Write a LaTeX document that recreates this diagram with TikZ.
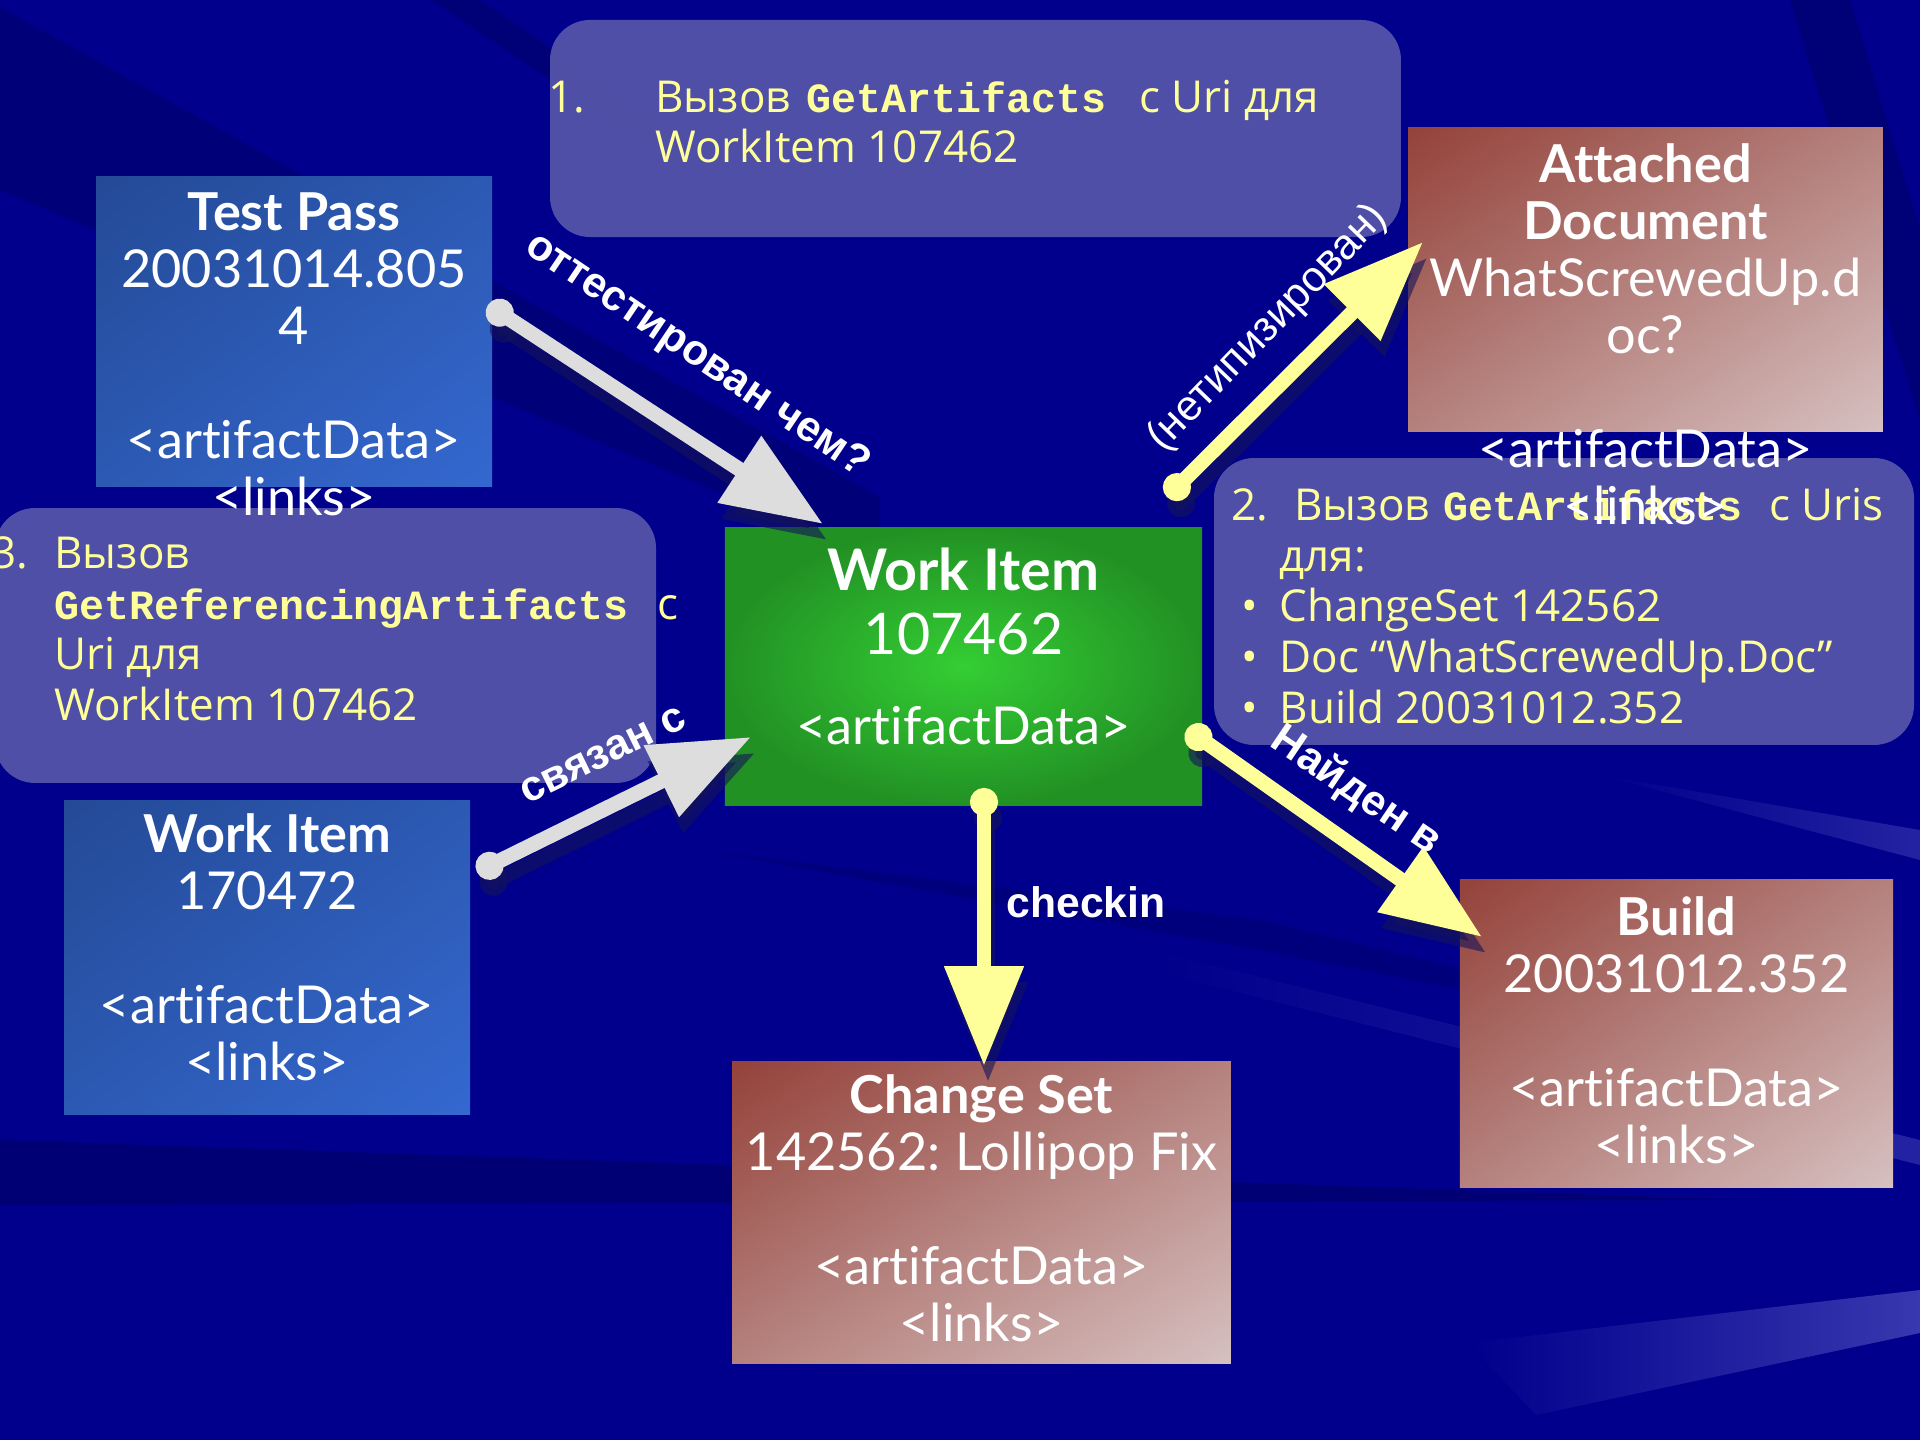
\documentclass[tikz,border=0pt]{standalone}
\usepackage{fontspec}
\setmainfont{Lato}[Ligatures=NoCommon]
\newfontfamily\labfont{Liberation Sans}
\newfontfamily\comicfont{Open Sans}
\newfontfamily\codefont{Liberation Mono}
\usetikzlibrary{arrows.meta,shadings}
\definecolor{bgblue}{RGB}{0,0,140}
\definecolor{bgdark}{RGB}{0,0,100}
\definecolor{bglight}{RGB}{70,70,185}
\definecolor{blueA}{RGB}{36,74,150}
\definecolor{blueB}{RGB}{52,104,208}
\definecolor{blueM}{RGB}{44,89,179}
\definecolor{greenA}{RGB}{52,206,52}
\definecolor{greenB}{RGB}{34,145,36}
\definecolor{brownA}{RGB}{148,66,58}
\definecolor{brownB}{RGB}{214,192,192}
\definecolor{brownM}{RGB}{181,129,125}
\definecolor{callfill}{RGB}{94,94,174}
\definecolor{cyellow}{RGB}{255,255,153}
\definecolor{agray}{RGB}{221,221,221}
\definecolor{ayellow}{RGB}{255,255,153}
\definecolor{ashadow}{RGB}{20,20,90}
\newcommand{\codetxt}[1]{{\codefont\bfseries\fontsize{15.6pt}{19pt}\selectfont #1}}
\begin{document}
\begin{tikzpicture}[x=0.375pt,y=-0.375pt,
  bx/.style={inner sep=0pt, outer sep=0pt, draw=none},
  bluebox/.style={bx, upper left=blueA, lower right=blueB, upper right=blueM, lower left=blueM},
  greenbox/.style={bx, inner color=greenA, outer color=greenB},
  brownbox/.style={bx, upper left=brownA, lower right=brownB, upper right=brownM, lower left=brownM},
  boxtxt/.style={text=white, align=center, inner sep=0pt, anchor=north, font=\fontsize{19.6pt}{21.4pt}\selectfont},
  callout/.style={fill=callfill, fill opacity=0.85, rounded corners=15pt, inner sep=0pt, draw=none},
  calltxt/.style={text=cyellow, align=left, inner sep=0pt, anchor=north west, font=\comicfont\fontsize{16.5pt}{19pt}\selectfont},
  conn/.style={line width=5.6pt, arrows={Circle[length=10.5pt]-Triangle[length=37.5pt,width=28.5pt]}},
  grayconn/.style={conn, draw=agray},
  yelconn/.style={conn, draw=ayellow},
  shadowconn/.style={conn, draw=ashadow, opacity=0.6, transform canvas={shift={(1.5pt,-6pt)}}},
  lab/.style={text=white, inner sep=0pt, font=\labfont\bfseries\fontsize{16pt}{19pt}\selectfont},
]
\useasboundingbox (0,0) rectangle (1920,1440);
% background
\fill[bgblue] (0,0) rectangle (1920,1440);
\fill[bgdark, opacity=0.45] (0,7) -- (880,497) -- (880,560) -- (0,190) -- cycle;
\fill[bgdark, opacity=0.5] (432,0) -- (480,0) -- (700,150) -- (640,140) -- cycle;
\fill[bgdark, opacity=0.5] (1790,0) -- (1850,0) -- (1920,230) -- (1920,420) -- cycle;
\fill[bgdark, opacity=0.6] (0,1140) -- (1750,1200) -- (0,1205) -- cycle;
\fill[bgdark, opacity=0.4] (700,850) -- (1260,920) -- (1920,1080) -- (1260,950) -- cycle;
\shade[left color=bgblue, right color=bglight, opacity=0.8] (1468,1343) -- (1920,1290) -- (1920,1333) -- (1536,1415) -- cycle;
\shade[left color=bgblue, right color=bglight, opacity=0.5] (1150,950) -- (1920,1140) -- (1920,1165) -- (1150,970) -- cycle;
\shade[left color=bgblue, right color=bglight, opacity=0.5] (1600,775) -- (1920,830) -- (1920,860) -- cycle;
% callouts
\node[callout, minimum width=319.1pt, minimum height=81.4pt] (c1) at (975.5,128.5) {};
\node[callout, minimum width=262.5pt, minimum height=107.6pt] (c2) at (1564,601.5) {};
\node[callout, minimum width=247.9pt, minimum height=103.1pt] (c3) at (325.5,645.5) {};
\node[calltxt, font=\comicfont\fontsize{16.5pt}{18.75pt}\selectfont] (c1T) at (548,72)
  {\rule{0pt}{15pt}\makebox[40.1pt][l]{1.}Вызов\hspace{6pt}\codetxt{GetArtifacts}\hspace{12.4pt}с Uri для\\
   \hspace*{40.1pt}WorkItem 107462};
\node[calltxt] (c2T) at (1231,480)
  {\rule{0pt}{15pt}\makebox[23.6pt][l]{2.}Вызов\hspace{5pt}\codetxt{GetArtifacts}\hspace{10pt}с Uris\\
   \hspace*{18pt}для:\\
   \hspace*{3.75pt}\makebox[14.25pt][l]{•}ChangeSet 142562\\
   \hspace*{3.75pt}\makebox[14.25pt][l]{•}Doc “WhatScrewedUp.Doc”\\
   \hspace*{3.75pt}\makebox[14.25pt][l]{•}Build 20031012.352};
\node[calltxt] (c3T) at (-9,528)
  {\rule{0pt}{15pt}\makebox[23.6pt][l]{3.}Вызов\\
   \hspace*{23.6pt}\codetxt{GetReferencingArtifacts}\hspace{10.9pt}с\\
   \hspace*{23.6pt}Uri для\\
   \hspace*{23.6pt}WorkItem 107462};
% boxes
\node[bluebox, minimum width=148.5pt, minimum height=116.6pt] (tp) at (294,331.5) {};
\node[greenbox, minimum width=178.9pt, minimum height=103.9pt] (wi) at (963.5,666.5) {};
\node[bluebox, minimum width=152.25pt, minimum height=117.75pt] (wi2) at (267,957) {};
\node[brownbox, minimum width=187.1pt, minimum height=113.25pt] (cs) at (981.5,1212) {};
\node[brownbox, minimum width=162.4pt, minimum height=115.5pt] (bd) at (1676.5,1033) {};
\node[brownbox, minimum width=178.1pt, minimum height=114pt] (ad) at (1645.5,280) {};
% box texts
\node[boxtxt, yshift=-5.25pt] (tpT) at (tp.north)
  {\rule{0pt}{15pt}\textbf{Test Pass}\\20031014.805\\4\\[21.4pt]<artifactData>\\<links>};
\node[boxtxt, yshift=-7.1pt, font=\fontsize{21.5pt}{24pt}\selectfont] (wiT) at (wi.north)
  {\rule{0pt}{15pt}\textbf{Work Item}\\107462\\[9.75pt]{\fontsize{19.6pt}{21.4pt}\selectfont <artifactData>}};
\node[boxtxt, yshift=-4.5pt] (wi2T) at (wi2.north)
  {\rule{0pt}{15pt}\textbf{Work Item}\\170472\\[21.4pt]<artifactData>\\<links>};
\node[boxtxt, yshift=-4.5pt] (csT) at (cs.north)
  {\rule{0pt}{15pt}\textbf{Change Set}\\142562:\hspace{-1pt} Lollipop Fix\\[21.4pt]<artifactData>\\<links>};
\node[boxtxt, yshift=-6pt] (bdT) at (bd.north)
  {\rule{0pt}{15pt}\textbf{Build}\\20031012.352\\[21.4pt]<artifactData>\\<links>};
\node[boxtxt, yshift=-5.25pt] (adT) at (ad.north)
  {\rule{0pt}{15pt}\textbf{Attached}\\\textbf{Document}\\WhatScrewedUp.d\\oc?\\[21.4pt]<artifactData>\\<links>};
% connector end points
\coordinate (a1s) at (488,305);  \coordinate (a1e) at (823,524);
\coordinate (a2s) at (477,872);  \coordinate (a2e) at (751,737);
\coordinate (a3s) at (984,788);  \coordinate (a3e) at (984,1066);
\coordinate (a4s) at (1167,497); \coordinate (a4e) at (1423,242);
\coordinate (a5s) at (1187,729); \coordinate (a5e) at (1482,937);
% shadows
\draw[shadowconn] (a1s) -- (a1e);
\draw[shadowconn] (a2s) -- (a2e);
\draw[shadowconn] (a3s) -- (a3e);
\draw[shadowconn] (a4s) -- (a4e);
\draw[shadowconn] (a5s) -- (a5e);
% connectors
\draw[grayconn] (a1s) -- (a1e);
\draw[grayconn] (a2s) -- (a2e);
\draw[yelconn] (a3s) -- (a3e);
\draw[yelconn] (a4s) -- (a4e);
\draw[yelconn] (a5s) -- (a5e);
% labels
\node[lab, rotate=-34] (l1) at (697,356) {оттестирован чем?};
\node[lab, rotate=26] (l2) at (603,755) {связан с};
\node[lab, anchor=base west] (l3) at (1006,917) {checkin};
\node[lab, font=\labfont\fontsize{16pt}{19pt}\selectfont, rotate=46] (l4) at (1268,328) {(нетипизирован)};
\node[lab, rotate=-34] (l5) at (1356,791) {Найден в};
\end{tikzpicture}
\end{document}
